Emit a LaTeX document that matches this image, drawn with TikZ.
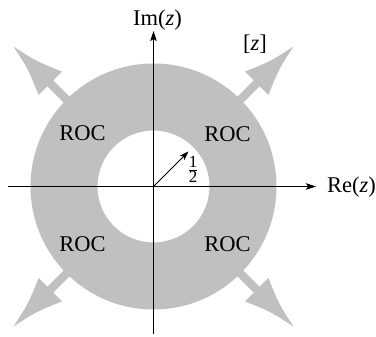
\documentclass[tikz,border=0pt]{standalone}
\usepackage{fontspec}
\setmainfont{Liberation Serif}
\usetikzlibrary{arrows.meta}
\definecolor{rocgray}{RGB}{192,192,192}
\newcommand{\fracdigit}[1]{\mbox{\fontsize{17}{17}\selectfont #1}}
\tikzset{
  roc/.style={fill=rocgray, draw=none},
  axis/.style={line width=0.8pt, -{Stealth[length=10pt,width=6.5pt,inset=2pt]}},
  lbl/.style={font=\fontsize{22.5}{26}\selectfont, inner sep=0pt},
  bigarrow/.pic={
    \fill[rocgray] (120,-4.2) -- (146,-4.2) -- (146,-16.5)
      .. controls (172,-5.5) .. (198,0)
      .. controls (172,5.5) .. (146,16.5) -- (146,4.2) -- (120,4.2) -- cycle;
  }
}
\begin{document}
\begin{tikzpicture}[x=1pt,y=1pt]
\useasboundingbox (0,0) rectangle (376,337);
\coordinate (c) at (153.5,150.5);
% annulus
\fill[roc, even odd rule] (c) circle (123) (c) circle (56);
% big gray arrows
\foreach \a in {45,135,225,315}
  \pic[shift={(c)}, rotate=\a] {bigarrow};
% axes
\coordinate (xl) at (8,150.5);
\coordinate (xr) at (316,150.5);
\coordinate (yb) at (153.5,3);
\coordinate (yt) at (153.5,306);
\draw[axis] (xl) -- (xr);
\draw[axis] (yb) -- (yt);
% radius arrow
\coordinate (rt) at (188.5,185.5);
\draw[line width=0.8pt, -{Stealth[length=9pt,width=6pt,inset=2pt]}] (c) -- (rt);
% labels
\node[lbl, anchor=base] (im) at (157.5,311) {Im(\textit{z})};
\node[lbl, anchor=base] (re) at (351.5,144) {Re(\textit{z})};
\node[lbl] (zz) at (255,293) {[\textit{z}]};
\node[lbl] (r1) at (82.5,204) {ROC};
\node[lbl] (r2) at (227.5,203) {ROC};
\node[lbl] (r3) at (82.5,93) {ROC};
\node[lbl] (r4) at (227.5,93) {ROC};
\node[lbl] (half) at (193,167.5) {$\frac{\fracdigit{1}}{\fracdigit{2}}$};
\end{tikzpicture}
\end{document}
